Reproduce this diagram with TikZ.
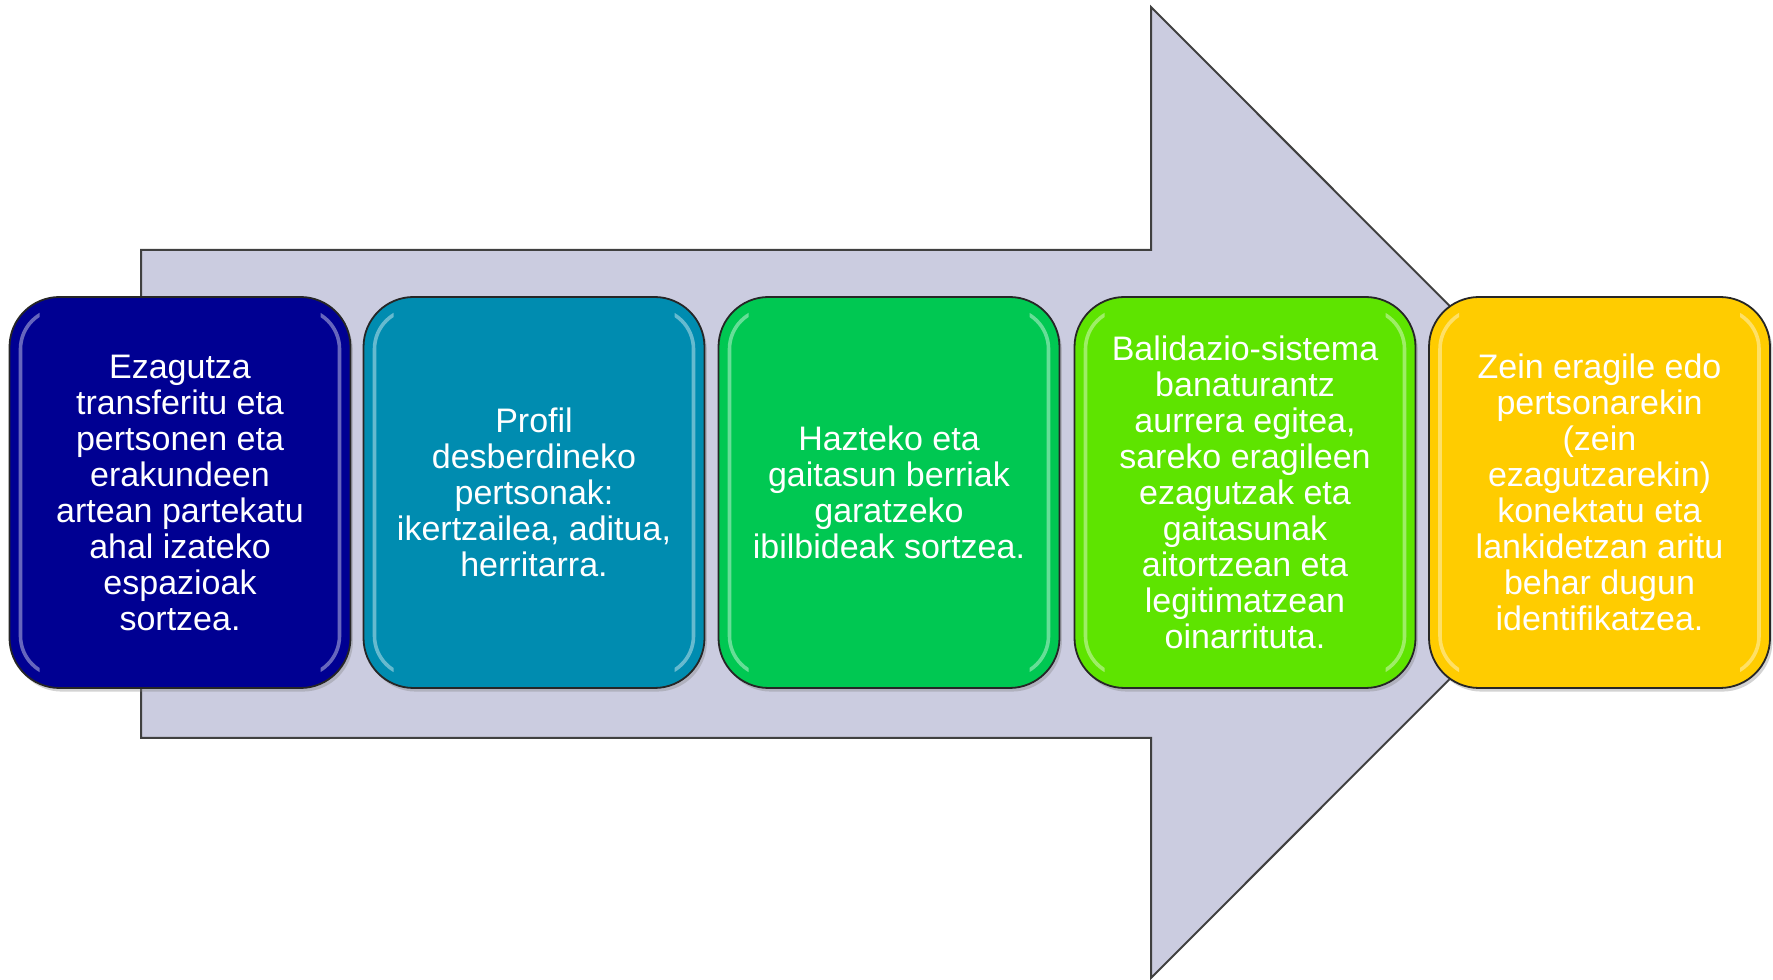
\documentclass[tikz,border=0pt]{standalone}
\usepackage{fontspec}
\setmainfont{Liberation Sans}
\usetikzlibrary{shadows,calc}

\definecolor{arrowfill}{RGB}{203,204,224}
\definecolor{stageA}{RGB}{0,0,146}
\definecolor{stageB}{RGB}{0,140,176}
\definecolor{stageC}{RGB}{0,200,82}
\definecolor{stageD}{RGB}{94,228,0}
\definecolor{stageE}{RGB}{255,204,0}

\tikzset{
  bigarrow/.style={fill=arrowfill, draw=black!75, line width=1pt, line join=miter},
  stagebox/.style={rounded corners=25pt, minimum width=170.5pt, minimum height=195.5pt,
    inner sep=0pt, outer sep=0pt, draw=black!85, line width=0.9pt,
    text=white, align=center, font=\fontsize{17}{18}\selectfont,
    drop shadow={opacity=0.35, shadow xshift=1.2pt, shadow yshift=-1.8pt}},
  gloss/.style={draw=white, line width=1.8pt, opacity=0.4, rounded corners=20pt}
}

\begin{document}
\begin{tikzpicture}[x=0.5pt, y=0.5pt]
\useasboundingbox (0,0) rectangle (1773,980);

% large background arrow
\coordinate (shaftTL) at (141,730);
\coordinate (shaftBL) at (141,242);
\coordinate (headTop) at (1151,973);
\coordinate (headBot) at (1151,2);
\coordinate (tip) at (1636,487.5);
\draw[bigarrow] (shaftBL) -- (shaftTL) -- (1151,730) -- (headTop) -- (tip)
  -- (headBot) -- (1151,242) -- cycle;

% stage boxes
\node[stagebox, fill=stageA] (b1) at (180,487.5)
  {Ezagutza\\transferitu eta\\pertsonen eta\\erakundeen\\artean partekatu\\ahal izateko\\espazioak\\sortzea.};
\node[stagebox, fill=stageB] (b2) at (534,487.5)
  {Profil\\desberdineko\\pertsonak:\\ikertzailea, aditua,\\herritarra.};
\node[stagebox, fill=stageC] (b3) at (889,487.5)
  {Hazteko eta\\gaitasun berriak\\garatzeko\\ibilbideak sortzea.};
\node[stagebox, fill=stageD] (b4) at (1245,487.5)
  {Balidazio-sistema\\banaturantz\\aurrera egitea,\\sareko eragileen\\ezagutzak eta\\gaitasunak\\aitortzean eta\\legitimatzean\\oinarrituta.};
\node[stagebox, fill=stageE] (b5) at (1599.5,487.5)
  {Zein eragile edo\\pertsonarekin\\(zein\\ezagutzarekin)\\konektatu eta\\lankidetzan aritu\\behar dugun\\identifikatzea.};

% glossy highlights along the side edges of each box
\foreach \b in {b1,b2,b3,b4,b5}{
  \begin{scope}
    \clip (\b.north west) rectangle ([xshift=15pt]\b.south west)
          ([xshift=-15pt]\b.north east) rectangle (\b.south east);
    \draw[gloss] ([shift={(5.5pt,-6pt)}]\b.north west) rectangle ([shift={(-5.5pt,6pt)}]\b.south east);
  \end{scope}
}
\end{tikzpicture}
\end{document}
